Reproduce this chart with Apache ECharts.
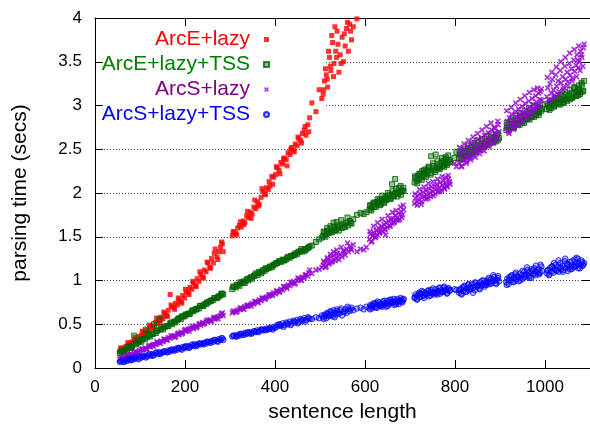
<!DOCTYPE html>
<html>
<head>
<meta charset="utf-8">
<script src="https://cdn.jsdelivr.net/npm/echarts@6.0.0/dist/echarts.min.js"></script>
<style>
  html, body { margin: 0; padding: 0; background: #fff; }
  #chart { width: 590px; height: 428px; }
</style>
</head>
<body>
<div id="chart"></div>
<script>
// sentence lengths (same sentences for every parser), grouped by length band
const lengths = [
  // 55-285
  55,59,63,67,71,75,79,83,87,91, 95,99,103,107,111,115,119,123,127,131,
  135,139,143,147,151,155,159,163,167,171, 175,179,183,187,191,195,199,203,207,211,
  215,219,223,227,231,235,239,243,247,251, 255,259,263,267,271,275,279,283,
  57,65,73,81,89,97,105,113,121,129, 137,145,153,161,169,177,185,193,201,209,
  217,225,233,241,249,257,265,273,281,285,
  // 305-477
  305,309,313,317,321,325,329,333,337,341, 345,349,353,357,361,365,369,373,377,381,
  385,389,393,397,401,405,409,413,417,421, 425,429,433,437,441,445,449,453,457,461,
  465,469,473,477,
  307,315,323,331,339,347,355,363,371,379, 387,395,403,411,419,427,435,443,451,459,
  467,475,
  482,491,498,504,
  // 507-574
  507,510,514,517,521,524,528,531,535,538, 542,545,549,552,556,559,563,566,570,574,
  508,512,516,519,523,526,530,533,537,540, 547,554,561,568,
  582,590,597,603,
  // 610-686
  610,612,615,617,620,622,625,627,630,632, 635,637,640,642,645,647,650,652,655,657,
  660,662,665,667,670,672,675,677,680,683, 686,
  611,614,619,624,628,633,638,643,646,651, 656,661,664,669,674,679,682,685,
  // 710-803
  710,712,715,717,720,722,725,727,730,732, 735,737,740,742,745,747,750,752,755,757,
  760,762,765,767,770,772,775,777,780,783, 786,789, 799,803,
  711,716,721,726,731,736,741,746,751,756, 761,766,771,776,779,782,785,788,
  // 809-898
  809,811,814,816,819,821,824,826,829,831, 834,836,839,841,844,846,849,851,854,856,
  859,861,864,866,869,871,874,876,879,881, 884,887,890,893,896,
  810,815,820,825,830,835,840,845,850,855, 860,865,870,875,880,885,889,892,895,898,
  // 914-993
  914,916,919,921,924,926,929,931,934,936, 939,941,944,946,949,951,954,956,959,961,
  964,966,969,971,974,976,979,981,984,986, 989,992,
  915,920,925,930,935,940,945,950,955,960, 965,970,975,980,983,987,990,993,
  // 1004-1087
  1004,1006,1009,1011,1014,1016,1019,1021,1024,1026, 1029,1031,1034,1036,1039,1041,1044,1046,1049,1051,
  1054,1056,1059,1061,1064,1066,1069,1071,1074,1076, 1079,1082,1085,
  1005,1010,1015,1020,1025,1030,1035,1040,1045,1050, 1055,1060,1065,1070,1075,1078,1081,1084,1087,1073
];

// parsing times (secs); longer sentences of ArcE+lazy run off the top of the chart
const arcELazy = [
  0.19,0.22,0.21,0.24,0.25,0.27,0.28,0.30,0.31,0.33, 0.32,0.36,0.37,0.40,0.39,0.43,0.42,0.46,0.48,0.47,
  0.52,0.51,0.55,0.58,0.56,0.62,0.60,0.66,0.84,0.70, 0.69,0.74,0.72,0.78,0.76,0.83,0.80,0.87,0.86,0.92,
  0.90,0.97,0.94,1.02,0.99,1.07,1.04,1.12,1.10,1.20, 1.15,1.25,1.20,1.36,1.27,1.33,1.38,1.42,
  0.23,0.20,0.29,0.25,0.35,0.31,0.42,0.38,0.49,0.45, 0.57,0.51,0.64,0.59,0.72,0.67,0.80,0.74,0.90,0.84,
  0.99,0.93,1.10,1.03,1.21,1.14,1.31,1.24,1.44,1.33,
  1.51,1.55,1.54,1.60,1.63,1.61,1.68,1.66,1.74,1.72, 1.78,1.76,1.84,1.82,1.90,1.87,1.95,2.02,1.99,2.06,
  2.04,2.08,2.19,2.18,2.21,2.29,2.26,2.35,2.33,2.40, 2.38,2.46,2.44,2.52,2.49,2.56,2.54,2.62,2.60,2.68,
  2.72,2.66,2.78,2.86,
  1.56,1.52,1.67,1.64,1.79,1.71,1.92,1.85,2.05,1.98, 2.13,2.10,2.30,2.22,2.39,2.31,2.50,2.47,2.64,2.57,
  2.76,2.70,
  3.03,2.93,3.18,3.08,
  3.13,3.28,3.35,3.21,3.55,3.40,3.72,3.48,3.62,3.85, 3.38,3.58,3.78,3.50,3.68,3.88,3.62,3.93,3.75,3.90,
  3.18,3.42,3.30,3.62,3.45,3.80,3.33,3.90,3.55,3.70, 3.48,3.82,3.95,3.85,
  3.99
];

const arcELazyTSS = [
  0.17,0.19,0.18,0.21,0.20,0.23,0.24,0.25,0.37,0.27, 0.29,0.31,0.30,0.33,0.33,0.35,0.37,0.36,0.39,0.50,
  0.40,0.43,0.56,0.45,0.44,0.47,0.48,0.48,0.51,0.50, 0.53,0.53,0.55,0.57,0.56,0.59,0.59,0.61,0.62,0.62,
  0.65,0.65,0.67,0.68,0.68,0.71,0.71,0.73,0.73,0.75, 0.76,0.77,0.78,0.80,0.80,0.82,0.83,0.85,
  0.19,0.19,0.24,0.23,0.28,0.30,0.33,0.44,0.38,0.39, 0.42,0.44,0.47,0.48,0.52,0.52,0.56,0.59,0.61,0.62,
  0.66,0.67,0.71,0.71,0.75,0.77,0.80,0.81,0.85,0.84,
  0.90,0.93,0.92,0.95,0.94,0.97,0.98,0.97,1.01,1.00, 1.03,1.02,1.05,1.08,1.06,1.10,1.08,1.12,1.11,1.13,
  1.14,1.16,1.15,1.18,1.19,1.20,1.22,1.21,1.24,1.23, 1.24,1.27,1.26,1.28,1.29,1.31,1.30,1.33,1.34,1.33,
  1.35,1.36,1.37,1.39,
  0.93,0.95,0.98,0.99,1.02,1.04,1.06,1.09,1.10,1.14, 1.15,1.17,1.20,1.22,1.23,1.26,1.28,1.29,1.32,1.36,
  1.34,1.38,
  1.40,1.44,1.47,1.49,
  1.51,1.55,1.53,1.57,1.55,1.59,1.56,1.61,1.58,1.63, 1.57,1.62,1.60,1.65,1.61,1.66,1.63,1.68,1.65,1.70,
  1.56,1.50,1.60,1.54,1.62,1.55,1.66,1.57,1.67,1.60, 1.69,1.62,1.72,1.66,
  1.75,1.77,1.76,1.78,
  1.81,1.85,1.83,1.87,1.84,1.89,1.86,1.90,1.88,1.92, 1.87,1.91,1.93,1.89,1.95,1.92,1.96,1.94,1.98,1.93,
  2.10,1.97,1.99,2.16,2.00,1.96,2.06,2.01,1.98,2.03, 2.02,
  1.86,1.80,1.89,1.84,1.93,1.86,1.97,1.89,1.92,2.00, 1.94,2.03,1.96,2.05,1.99,2.08,2.02,2.06,
  2.12,2.17,2.14,2.20,2.16,2.22,2.18,2.25,2.19,2.23, 2.27,2.21,2.25,2.29,2.23,2.42,2.27,2.31,2.26,2.44,
  2.30,2.28,2.33,2.29,2.35,2.31,2.37,2.33,2.39,2.34, 2.38,2.36, 2.40,2.47,
  2.19,2.11,2.22,2.15,2.26,2.18,2.30,2.21,2.34,2.24, 2.37,2.27,2.40,2.30,2.41,2.32,2.43,2.35,
  2.40,2.44,2.38,2.46,2.42,2.48,2.43,2.41,2.50,2.45, 2.47,2.52,2.44,2.49,2.53,2.48,2.51,2.55,2.50,2.54,
  2.52,2.57,2.53,2.56,2.59,2.55,2.58,2.61,2.57,2.60, 2.63,2.59,2.62,2.66,2.61,
  2.47,2.39,2.50,2.42,2.54,2.45,2.57,2.47,2.60,2.50, 2.62,2.53,2.65,2.55,2.67,2.58,2.64,2.59,2.68,2.63,
  2.72,2.76,2.74,2.79,2.75,2.81,2.77,2.74,2.83,2.79, 2.80,2.85,2.78,2.82,2.87,2.83,2.80,2.88,2.85,2.90,
  2.86,2.84,2.91,2.88,2.93,2.87,2.90,2.95,2.92,2.89, 2.97,2.94,
  2.80,2.72,2.84,2.75,2.88,2.78,2.91,2.81,2.94,2.84, 2.97,2.87,3.00,2.89,2.99,2.92,3.01,2.96,
  2.96,3.00,2.98,3.03,2.97,3.05,3.01,2.99,3.06,3.02, 3.04,3.08,3.01,3.06,3.10,3.03,3.07,3.12,3.05,3.09,
  3.11,3.07,3.14,3.09,3.13,3.20,3.11,3.16,3.12,3.18, 3.15,3.24,3.17,
  3.02,2.95,3.06,2.99,3.09,3.02,3.12,3.04,3.15,3.07, 3.18,3.09,3.21,3.11,3.23,3.13,3.26,3.16,3.28,3.19
];

const arcSLazy = [
  0.10,0.12,0.11,0.13,0.14,0.14,0.16,0.15,0.17,0.18, 0.18,0.20,0.21,0.21,0.23,0.22,0.25,0.24,0.26,0.27,
  0.27,0.29,0.29,0.31,0.30,0.33,0.32,0.35,0.34,0.36, 0.37,0.36,0.39,0.38,0.41,0.40,0.43,0.42,0.44,0.45,
  0.46,0.45,0.48,0.47,0.50,0.49,0.52,0.51,0.53,0.54, 0.55,0.54,0.57,0.56,0.58,0.59,0.60,0.63,
  0.12,0.11,0.15,0.14,0.19,0.17,0.22,0.21,0.26,0.25, 0.30,0.28,0.33,0.32,0.37,0.35,0.40,0.39,0.44,0.42,
  0.48,0.46,0.51,0.50,0.55,0.53,0.58,0.56,0.62,0.60,
  0.63,0.65,0.64,0.66,0.67,0.68,0.68,0.70,0.71,0.71, 0.72,0.74,0.73,0.76,0.75,0.78,0.77,0.80,0.79,0.81,
  0.82,0.83,0.84,0.86,0.85,0.88,0.87,0.90,0.89,0.93, 0.93,0.95,0.94,0.97,0.99,0.97,1.00,1.02,1.01,1.04,
  1.03,1.07,1.05,1.12,
  0.65,0.64,0.69,0.67,0.72,0.71,0.76,0.75,0.80,0.79, 0.84,0.83,0.88,0.87,0.93,0.91,0.98,0.96,1.03,1.00,
  1.06,1.09,
  1.08,1.12,1.13,1.15,
  1.17,1.21,1.16,1.24,1.20,1.27,1.22,1.29,1.25,1.31, 1.24,1.30,1.27,1.34,1.29,1.36,1.33,1.39,1.35,1.41,
  1.22,1.15,1.26,1.19,1.30,1.21,1.33,1.23,1.35,1.28, 1.38,1.32,1.43,1.36,
  1.33,1.36,1.35,1.38,
  1.47,1.53,1.45,1.51,1.55,1.49,1.57,1.52,1.60,1.54, 1.58,1.62,1.56,1.64,1.59,1.66,1.61,1.68,1.63,1.70,
  1.65,1.71,1.67,1.74,1.69,1.72,1.77,1.70,1.79,1.75, 1.81,
  1.56,1.44,1.62,1.50,1.66,1.55,1.70,1.58,1.52,1.74, 1.62,1.78,1.66,1.80,1.69,1.84,1.72,1.86,
  1.88,1.94,1.90,1.97,1.92,1.99,1.87,1.95,2.01,1.96, 2.03,1.98,1.94,2.05,2.00,2.07,2.02,1.97,2.08,2.04,
  2.10,2.01,2.06,2.12,2.03,2.09,2.14,2.05,2.11,2.07, 2.16,2.10, 2.34,2.30,
  1.99,1.86,2.04,1.90,2.07,1.93,2.11,1.96,2.13,1.99, 2.16,2.02,2.19,2.05,2.18,2.08,2.20,2.13,
  2.35,2.44,2.31,2.47,2.38,2.50,2.42,2.36,2.53,2.45, 2.40,2.56,2.48,2.43,2.58,2.51,2.46,2.61,2.54,2.49,
  2.63,2.57,2.52,2.66,2.59,2.55,2.69,2.62,2.58,2.72, 2.65,2.75,2.68,2.63,2.78,
  2.52,2.30,2.56,2.34,2.60,2.38,2.64,2.41,2.68,2.45, 2.72,2.48,2.76,2.53,2.80,2.57,2.74,2.61,2.82,2.70,
  2.74,2.82,2.70,2.86,2.78,2.90,2.83,2.76,2.93,2.87, 2.81,2.96,2.90,2.85,2.99,2.92,2.88,3.02,2.95,2.90,
  3.05,2.98,2.93,3.08,3.01,2.96,3.11,3.04,2.99,3.14, 3.07,3.19,
  2.94,2.68,2.98,2.73,3.03,2.77,3.07,2.81,3.11,2.86, 3.15,2.90,3.18,2.95,3.20,3.00,3.16,3.06,
  3.10,3.20,3.06,3.25,3.14,3.30,3.18,3.12,3.35,3.22, 3.28,3.16,3.40,3.26,3.33,3.21,3.45,3.30,3.38,3.27,
  3.48,3.35,3.42,3.31,3.52,3.39,3.46,3.58,3.43,3.50, 3.62,3.55,3.66,
  3.32,3.04,3.38,3.09,3.44,3.13,3.50,3.18,3.55,3.23, 3.60,3.28,3.64,3.33,3.68,3.40,3.58,3.45,3.70,3.52
];

const arcSLazyTSS = [
  0.07,0.08,0.07,0.09,0.08,0.10,0.09,0.11,0.10,0.12, 0.11,0.13,0.12,0.13,0.14,0.13,0.15,0.14,0.16,0.15,
  0.17,0.16,0.18,0.17,0.18,0.19,0.18,0.20,0.19,0.21, 0.20,0.22,0.21,0.23,0.22,0.24,0.23,0.24,0.25,0.24,
  0.26,0.25,0.27,0.26,0.28,0.27,0.28,0.29,0.28,0.30, 0.29,0.31,0.30,0.32,0.31,0.33,0.32,0.34,
  0.08,0.07,0.10,0.09,0.12,0.10,0.14,0.12,0.16,0.14, 0.18,0.16,0.19,0.18,0.21,0.20,0.23,0.21,0.25,0.23,
  0.27,0.25,0.28,0.27,0.30,0.29,0.32,0.30,0.34,0.32,
  0.36,0.37,0.36,0.38,0.37,0.39,0.38,0.40,0.39,0.40, 0.41,0.40,0.42,0.41,0.43,0.42,0.44,0.43,0.44,0.45,
  0.44,0.46,0.45,0.47,0.46,0.49,0.50,0.48,0.51,0.49, 0.52,0.50,0.53,0.51,0.54,0.52,0.55,0.53,0.56,0.54,
  0.57,0.55,0.58,0.56,
  0.37,0.36,0.39,0.38,0.41,0.39,0.42,0.41,0.44,0.43, 0.45,0.44,0.47,0.49,0.47,0.51,0.49,0.53,0.51,0.55,
  0.53,0.57,
  0.56,0.58,0.57,0.60,
  0.58,0.61,0.57,0.62,0.60,0.64,0.59,0.63,0.61,0.65, 0.62,0.66,0.60,0.64,0.67,0.63,0.68,0.65,0.69,0.66,
  0.56,0.60,0.63,0.59,0.65,0.61,0.66,0.58,0.67,0.63, 0.68,0.64,0.70,0.67,
  0.68,0.69,0.67,0.70,
  0.69,0.72,0.68,0.71,0.73,0.70,0.74,0.69,0.72,0.75, 0.71,0.73,0.76,0.72,0.74,0.70,0.77,0.73,0.75,0.78,
  0.74,0.76,0.72,0.77,0.75,0.79,0.73,0.76,0.78,0.75, 0.79,
  0.67,0.71,0.74,0.69,0.76,0.72,0.70,0.77,0.74,0.71, 0.78,0.75,0.79,0.73,0.77,0.80,0.76,0.78,
  0.80,0.84,0.79,0.83,0.86,0.81,0.85,0.82,0.87,0.83, 0.86,0.84,0.88,0.82,0.86,0.89,0.85,0.87,0.84,0.90,
  0.86,0.88,0.91,0.85,0.89,0.87,0.92,0.88,0.90,0.86, 0.91,0.89, 0.90,0.89,
  0.81,0.78,0.85,0.88,0.80,0.84,0.89,0.83,0.91,0.86, 0.84,0.92,0.87,0.93,0.89,0.85,0.91,0.88,
  0.86,0.90,0.85,0.92,0.88,0.94,0.87,0.91,0.95,0.89, 0.93,0.90,0.96,0.92,0.89,0.97,0.93,0.95,0.91,0.98,
  0.94,0.96,1.00,0.93,0.97,0.95,1.01,0.98,0.96,1.02, 0.99,1.04,0.97,1.01,1.05,
  0.89,0.84,0.93,0.87,0.96,0.91,0.86,0.98,0.94,0.90, 1.00,0.95,0.99,1.03,0.97,1.06,1.00,0.96,1.03,0.99,
  0.98,1.02,0.96,1.04,1.00,1.06,0.99,1.03,1.07,1.01, 1.05,0.99,1.08,1.03,1.06,1.02,1.10,1.04,1.07,1.12,
  1.05,1.09,1.03,1.11,1.07,1.14,1.06,1.10,1.08,1.13, 1.09,1.16,
  0.95,1.01,1.05,0.98,1.09,1.04,1.00,1.11,1.06,1.15, 1.03,1.13,1.08,1.17,1.12,1.07,1.18,1.11,
  1.08,1.12,1.06,1.14,1.10,1.16,1.09,1.13,1.18,1.11, 1.15,1.10,1.20,1.13,1.17,1.12,1.22,1.14,1.19,1.11,
  1.16,1.21,1.13,1.18,1.15,1.24,1.17,1.20,1.14,1.19, 1.17,1.21,1.18,
  1.11,1.07,1.16,1.20,1.12,1.23,1.15,1.10,1.25,1.18, 1.13,1.22,1.16,1.26,1.19,1.14,1.23,1.17,1.20,1.25
];

const xMax = 1100;
const yMax = 4;
const font = "'Liberation Sans', Arial, Helvetica, sans-serif";
const crossPath = 'path://M0,2L2,0L5,3L8,0L10,2L7,5L10,8L8,10L5,7L2,10L0,8L3,5Z';

function pairs(values) {
  const out = [];
  values.forEach((v, i) => {
    if (v != null) out.push([lengths[i], v]);
  });
  return out;
}

const frameLine = { show: true, onZero: false, lineStyle: { color: '#000', width: 1 } };
const tick = { show: true, inside: true, length: 8, lineStyle: { color: '#000', width: 1 } };

const chart = echarts.init(document.getElementById('chart'));
const option = {
  animation: false,
  backgroundColor: '#fff',
  grid: { left: 95, right: -2, top: 18, bottom: 56 },
  graphic: [
    {
      type: 'rect',
      z: 1,
      silent: true,
      shape: { x: 104, y: 28, width: 222, height: 110 },
      style: { fill: '#fff' },
    },
  ],
  legend: {
    orient: 'vertical',
    left: 100,
    top: 29,
    padding: 0,
    itemGap: 4,
    itemWidth: 5,
    itemHeight: 5,
    align: 'right',
    selectedMode: false,
    formatter: (name) => '{t|' + name + '}',
    textStyle: {
      fontFamily: font,
      fontSize: 21,
      rich: {
        t: { width: 150, align: 'right', padding: [0, 9, 0, 0], fontSize: 21, lineHeight: 24, fontFamily: font },
      },
    },
    data: [
      { name: 'ArcE+lazy', textStyle: { color: '#ff0000' } },
      { name: 'ArcE+lazy+TSS', textStyle: { color: '#008000' } },
      { name: 'ArcS+lazy', textStyle: { color: '#800080' } },
      { name: 'ArcS+lazy+TSS', textStyle: { color: '#0000ff' } },
    ],
  },
  xAxis: [
    {
      type: 'value',
      position: 'bottom',
      min: 0,
      max: xMax,
      interval: 200,
      name: 'sentence length',
      nameLocation: 'middle',
      nameGap: 34,
      nameTextStyle: { fontFamily: font, fontSize: 21, color: '#000' },
      axisLine: frameLine,
      axisTick: tick,
      axisLabel: {
        fontFamily: font, fontSize: 17, color: '#000', margin: 11,
        showMaxLabel: false,
        formatter: (v) => String(v),
      },
      splitLine: { show: false },
    },
    {
      type: 'value',
      position: 'top',
      min: 0,
      max: xMax,
      interval: 200,
      axisLine: frameLine,
      axisTick: tick,
      axisLabel: { show: false },
      splitLine: { show: false },
    },
  ],
  yAxis: [
    {
      type: 'value',
      position: 'left',
      min: 0,
      max: yMax,
      interval: 0.5,
      name: 'parsing time (secs)',
      nameLocation: 'middle',
      nameGap: 64,
      nameTextStyle: { fontFamily: font, fontSize: 21, color: '#000' },
      axisLine: frameLine,
      axisTick: tick,
      axisLabel: { fontFamily: font, fontSize: 17, color: '#000', margin: 13 },
      splitLine: { show: true, lineStyle: { color: '#444', width: 1, type: [1, 2] } },
    },
    {
      type: 'value',
      position: 'right',
      min: 0,
      max: yMax,
      interval: 0.5,
      axisLine: frameLine,
      axisTick: tick,
      axisLabel: { show: false },
      splitLine: { show: false },
    },
  ],
  series: [
    {
      name: 'ArcE+lazy',
      type: 'scatter',
      data: pairs(arcELazy),
      symbol: 'rect',
      symbolSize: 5,
      itemStyle: { color: '#ff0000' },
    },
    {
      name: 'ArcE+lazy+TSS',
      type: 'scatter',
      data: pairs(arcELazyTSS),
      symbol: 'rect',
      symbolSize: 5,
      itemStyle: { color: 'rgba(0,100,0,0.5)', borderColor: '#006400', borderWidth: 1 },
    },
    {
      name: 'ArcS+lazy',
      type: 'scatter',
      data: pairs(arcSLazy),
      symbol: crossPath,
      symbolSize: 6,
      itemStyle: { color: '#9400d3' },
    },
    {
      name: 'ArcS+lazy+TSS',
      type: 'scatter',
      data: pairs(arcSLazyTSS),
      symbol: 'circle',
      symbolSize: 5.5,
      itemStyle: { color: 'rgba(0,0,255,0.3)', borderColor: '#0000ff', borderWidth: 1 },
    },
  ],
};
chart.setOption(option);
</script>
</body>
</html>
